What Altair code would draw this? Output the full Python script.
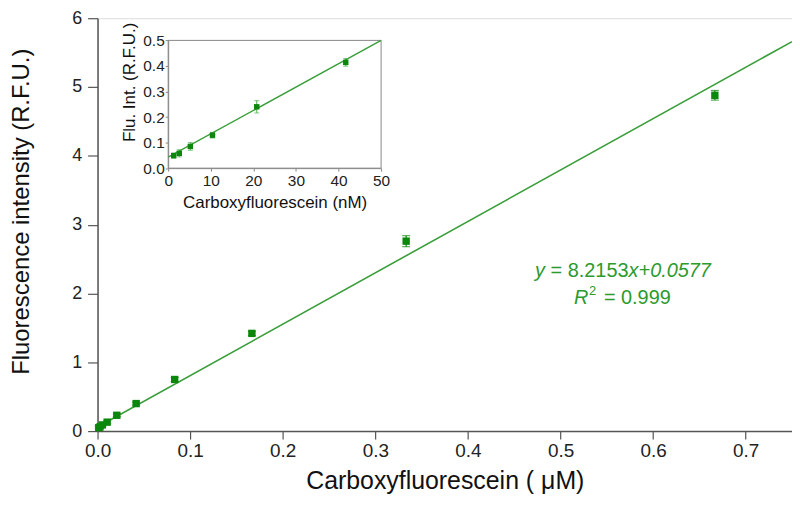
import altair as alt
import pandas as pd

# ---- main calibration (µM) ----
conc_um = [0.0013, 0.0026, 0.0052, 0.0104, 0.0208, 0.0417, 0.0833, 0.1667, 0.3333, 0.6667]
fluo = [0.05, 0.06, 0.09, 0.13, 0.23, 0.40, 0.75, 1.42, 2.76, 4.88]
fluo_err = [0.02, 0.02, 0.02, 0.02, 0.02, 0.02, 0.03, 0.03, 0.08, 0.07]
fit_x = [0.0, 0.75]
fit_y = [0.06, 5.66]

# ---- inset (nM) ----
inset_conc_nm = [1.3, 2.6, 5.2, 10.4, 20.8, 41.7]
inset_fluo = [0.049, 0.058, 0.085, 0.129, 0.240, 0.414]
inset_err = [0.010, 0.014, 0.015, 0.011, 0.024, 0.015]
inset_fit_x = [0.0, 50.0]
inset_fit_y = [0.043, 0.5]

x_ticks = [0.0, 0.1, 0.2, 0.3, 0.4, 0.5, 0.6, 0.7]
y_ticks = [0, 1, 2, 3, 4, 5, 6]
inset_x_ticks = [0, 10, 20, 30, 40, 50]
inset_y_ticks = [0.0, 0.1, 0.2, 0.3, 0.4, 0.5]

FONT = "Liberation Sans"
GREEN_MARK = "#0b870b"
GREEN_LINE = "#3a9e3a"
GREEN_TEXT = "#2c9a2c"
W, H = 698, 415
TOP = 9

main_pts = pd.DataFrame({
    "x": conc_um, "y": fluo,
    "lo": [v - e for v, e in zip(fluo, fluo_err)],
    "hi": [v + e for v, e in zip(fluo, fluo_err)],
})
main_fit = pd.DataFrame({"x": fit_x, "y": fit_y})

inset_pts = pd.DataFrame({
    "x": inset_conc_nm, "y": inset_fluo,
    "lo": [v - e for v, e in zip(inset_fluo, inset_err)],
    "hi": [v + e for v, e in zip(inset_fluo, inset_err)],
})
inset_fit = pd.DataFrame({"x": inset_fit_x, "y": inset_fit_y})
inset_box = pd.DataFrame({"x": [0.0], "x2": [50.0], "y": [0.0], "y2": [0.5]})

main_x_axis = alt.Axis(
    values=x_ticks, format=".1f", title="Carboxyfluorescein ( μM)", grid=False,
    tickSize=8, labelPadding=3, labelFontSize=19, labelFont=FONT, labelColor="#222",
    labelFlush=False,
    domainColor="#555", tickColor="#555", domainWidth=1.5, tickWidth=1.2,
    titleFont=FONT, titleFontSize=25, titleFontWeight="normal", titleColor="#111",
    titleY=50, titleBaseline="middle",
)
main_y_axis = alt.Axis(
    values=y_ticks, format="d", title="Fluorescence intensity (R.F.U.)", grid=False,
    tickSize=10, labelPadding=6, labelFontSize=18, labelFont=FONT, labelColor="#222",
    labelFlush=False,
    domainColor="#555", tickColor="#555", domainWidth=1.5, tickWidth=1.2,
    titleFont=FONT, titleFontSize=24, titleFontWeight="normal", titleColor="#111",
    titleX=-76, titleY=194, titleAngle=270, titleAlign="center", titleBaseline="middle",
)
main_xs = alt.Scale(domain=[0, 0.75], nice=False)
main_ys = alt.Scale(domain=[0, 6], nice=False)


def mx(field):
    return alt.X(f"{field}:Q", scale=main_xs, axis=main_x_axis)


def my(field):
    return alt.Y(f"{field}:Q", scale=main_ys, axis=main_y_axis)


fit_line = alt.Chart(main_fit).mark_line(color=GREEN_LINE, strokeWidth=1.6).encode(x=mx("x"), y=my("y"))
err_rule = alt.Chart(main_pts).mark_rule(color=GREEN_MARK, strokeWidth=1.2).encode(
    x=mx("x"), y=my("lo"), y2="hi")
err_top = alt.Chart(main_pts).mark_tick(color=GREEN_MARK, orient="horizontal", size=8, thickness=1.2).encode(
    x=mx("x"), y=my("hi"))
err_bot = alt.Chart(main_pts).mark_tick(color=GREEN_MARK, orient="horizontal", size=8, thickness=1.2).encode(
    x=mx("x"), y=my("lo"))
pts = alt.Chart(main_pts).mark_square(color=GREEN_MARK, size=55, opacity=1).encode(x=mx("x"), y=my("y"))

# equation annotation anchors (data coordinates)
eq_anchor = pd.DataFrame({"x": [0.4725], "y": [2.33]})
r2_anchor = pd.DataFrame({"x": [0.5146], "y": [1.94]})


def ann(df, text, dx, italic=False, size=20, dy=0):
    return alt.Chart(df).mark_text(
        text=text, align="left", baseline="middle", dx=dx, dy=dy, font=FONT,
        fontSize=size, fontStyle="italic" if italic else "normal", color=GREEN_TEXT,
    ).encode(x=mx("x"), y=my("y"))


eq_layers = [
    ann(eq_anchor, "y", 0, True),
    ann(eq_anchor, "= 8.2153", 15.6),
    ann(eq_anchor, "x", 94, True),
    ann(eq_anchor, "+0.0577", 104, True),
    ann(r2_anchor, "R", 0, True),
    ann(r2_anchor, "2", 15, False, 13, -7),
    ann(r2_anchor, "= 0.999", 30),
]

main = alt.layer(fit_line, err_rule, err_top, err_bot, pts, *eq_layers)

# ---- inset (pixel placement relative to the main plot area) ----
in_left, in_right = 71, 285
in_top, in_bottom = 39.3 - 8 - TOP, 167.7 - 8 - TOP
in_x_axis = alt.Axis(
    orient="bottom", offset=-(H - in_bottom), values=inset_x_ticks, format="d",
    title="Carboxyfluorescein (nM)", grid=False, tickSize=3, labelPadding=2,
    labelFontSize=15.5, labelFont=FONT, labelColor="#222", domainColor="#888", tickColor="#888",
    labelFlush=False,
    titleFont=FONT, titleFontSize=17, titleFontWeight="normal", titleColor="#111",
    titleY=35, titleBaseline="middle",
)
in_y_axis = alt.Axis(
    orient="left", offset=-in_left, values=inset_y_ticks, format=".1f",
    title="Flu. Int. (R.F.U.)", grid=False, tickSize=3, labelPadding=1,
    labelFontSize=15.5, labelFont=FONT, labelColor="#222", domainColor="#888", tickColor="#888",
    labelFlush=False,
    titleFont=FONT, titleFontSize=17, titleFontWeight="normal", titleColor="#111",
    titleX=-39, titleY=64, titleAngle=270, titleAlign="center", titleBaseline="middle",
)
in_xs = alt.Scale(domain=[0, 50], range=[in_left, in_right], nice=False)
in_ys = alt.Scale(domain=[0, 0.5], range=[in_bottom, in_top], nice=False)


def ix(field):
    return alt.X(f"{field}:Q", scale=in_xs, axis=in_x_axis)


def iy(field):
    return alt.Y(f"{field}:Q", scale=in_ys, axis=in_y_axis)


in_box = alt.Chart(inset_box).mark_rect(fill="white", fillOpacity=0, stroke="#888", strokeWidth=1).encode(
    x=ix("x"), x2="x2", y=iy("y"), y2="y2")
in_line = alt.Chart(inset_fit).mark_line(color=GREEN_LINE, strokeWidth=1.4).encode(x=ix("x"), y=iy("y"))
in_rule = alt.Chart(inset_pts).mark_rule(color="#4caf4c", strokeWidth=1).encode(x=ix("x"), y=iy("lo"), y2="hi")
in_top_t = alt.Chart(inset_pts).mark_tick(color="#4caf4c", orient="horizontal", size=5, thickness=1).encode(
    x=ix("x"), y=iy("hi"))
in_bot_t = alt.Chart(inset_pts).mark_tick(color="#4caf4c", orient="horizontal", size=5, thickness=1).encode(
    x=ix("x"), y=iy("lo"))
in_pts = alt.Chart(inset_pts).mark_square(color=GREEN_MARK, size=30, opacity=1).encode(x=ix("x"), y=iy("y"))

inset = alt.layer(in_box, in_line, in_rule, in_top_t, in_bot_t, in_pts)

chart = alt.layer(main, inset).resolve_scale(x="independent", y="independent").properties(
    width=W, height=H,
    autosize=alt.AutoSizeParams(type="none"),
    padding={"left": 90, "top": TOP, "right": 0, "bottom": 70},
).configure_view(stroke="#555", strokeWidth=1.5).configure(background="white")

chart.save("out.html", embed_options={"renderer": "svg", "actions": False})
